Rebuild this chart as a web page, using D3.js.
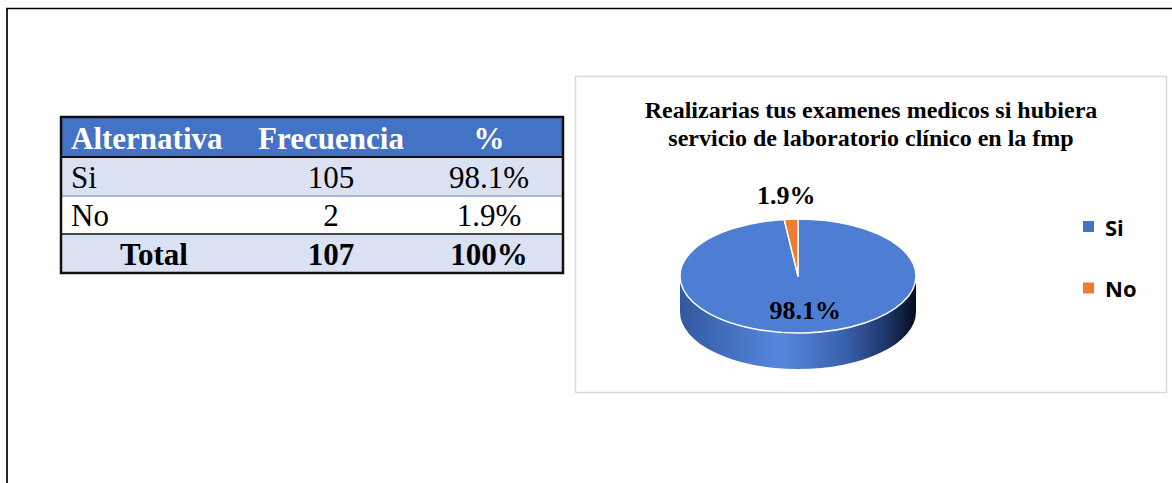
<!DOCTYPE html>
<html><head><meta charset="utf-8">
<script src="https://cdn.jsdelivr.net/npm/d3@7"></script>
<style>html,body{margin:0;padding:0;background:#fff;overflow:hidden}</style>
</head><body>
<svg id="c" width="1172" height="483"></svg>
<script>
// ---- data ----
const categories = ["Si", "No"];
const frequencies = [105, 2];
const percentLabels = ["98.1%", "1.9%"];
const headers = ["Alternativa", "Frecuencia", "%"];
const totalRow = ["Total", "107", "100%"];
const titleLines = ["Realizarias tus examenes medicos si hubiera", "servicio de laboratorio clínico en la fmp"];
const sliceColors = ["#4d7ed4", "#ED7D31"];
const legendColors = ["#4472C4", "#ED7D31"];

const svg = d3.select("#c");
const serif = "'Liberation Serif','Times New Roman',serif";

// ---- outer page frame ----
svg.append("path").attr("d", "M7,483 V8.5 H1172").attr("fill", "none")
  .attr("stroke", "#000").attr("stroke-width", 1.7);

// ---- table ----
const colEdges = [61, 247, 415, 563];
const rowEdges = [117, 157, 196, 234, 273];
const rows = [headers]
  .concat(categories.map((c, i) => [c, String(frequencies[i]), percentLabels[i]]))
  .concat([totalRow]);
const rowFills = ["#4472C4", "#D9E1F2", "#FFFFFF", "#D9E1F2"];
const tbl = svg.append("g");
tbl.selectAll("rect.row").data(rows).join("rect")
  .attr("x", colEdges[0]).attr("y", (d, i) => rowEdges[i])
  .attr("width", colEdges[3] - colEdges[0]).attr("height", (d, i) => rowEdges[i + 1] - rowEdges[i])
  .attr("fill", (d, i) => rowFills[i]);
tbl.append("line").attr("x1", colEdges[0]).attr("x2", colEdges[3]).attr("y1", rowEdges[1]).attr("y2", rowEdges[1])
  .attr("stroke", "#111").attr("stroke-width", 2);
tbl.append("line").attr("x1", colEdges[0]).attr("x2", colEdges[3]).attr("y1", rowEdges[2]).attr("y2", rowEdges[2])
  .attr("stroke", "#8EA9DB").attr("stroke-width", 1.5);
tbl.append("line").attr("x1", colEdges[0]).attr("x2", colEdges[3]).attr("y1", rowEdges[3]).attr("y2", rowEdges[3])
  .attr("stroke", "#111").attr("stroke-width", 1.6);
tbl.append("rect").attr("x", colEdges[0]).attr("y", rowEdges[0])
  .attr("width", colEdges[3] - colEdges[0]).attr("height", rowEdges[4] - rowEdges[0])
  .attr("fill", "none").attr("stroke", "#111").attr("stroke-width", 2.5);

rows.forEach((r, ri) => {
  const isHeader = ri === 0, isTotal = ri === rows.length - 1;
  const base = rowEdges[ri + 1] - 8;
  r.forEach((txt, ci) => {
    let x, anchor;
    if (ci === 0 && !isTotal) { x = colEdges[0] + 10; anchor = "start"; }
    else if (ci === 0) { x = (colEdges[0] + colEdges[1]) / 2; anchor = "middle"; }
    else if (ci === 1) { x = 331; anchor = "middle"; }
    else { x = 489; anchor = "middle"; }
    tbl.append("text").attr("x", x).attr("y", base).attr("text-anchor", anchor)
      .attr("font-family", serif).attr("font-size", 31)
      .attr("font-weight", (isHeader || isTotal) ? "bold" : "normal")
      .attr("fill", isHeader ? "#fff" : "#000").text(txt);
  });
});

// ---- chart box ----
svg.append("rect").attr("x", 575.5).attr("y", 76.5).attr("width", 591).attr("height", 316)
  .attr("fill", "#fff").attr("stroke", "#d9d9d9").attr("stroke-width", 1.5);

svg.append("g").selectAll("text").data(titleLines).join("text")
  .attr("x", 871).attr("y", (d, i) => 118 + i * 28).attr("text-anchor", "middle")
  .attr("font-family", serif).attr("font-weight", "bold").attr("font-size", 24)
  .attr("fill", "#000").text(d => d);

// ---- 3D pie ----
const cx = 798, cy = 276, rx = 118, ry = 57, depth = 36;
const pie = d3.pie().sort(null).value(d => d)(frequencies);
const px = a => cx + rx * Math.sin(a);
const py = a => cy - ry * Math.cos(a);

const defs = svg.append("defs");
const grad = defs.append("linearGradient").attr("id", "side").attr("gradientUnits", "userSpaceOnUse")
  .attr("x1", cx - rx).attr("x2", cx + rx).attr("y1", 0).attr("y2", 0);
[[0, "#33579f"], [0.12, "#3d66b0"], [0.42, "#5587de"], [0.68, "#3c64b0"], [0.86, "#203a72"], [1, "#050c1c"]]
  .forEach(([o, c]) => grad.append("stop").attr("offset", o).attr("stop-color", c));

const pieG = svg.append("g");
pie.forEach((s, i) => {
  const a0 = Math.max(s.startAngle, Math.PI / 2), a1 = Math.min(s.endAngle, 3 * Math.PI / 2);
  if (a1 <= a0) return;
  const large = (a1 - a0) > Math.PI ? 1 : 0;
  const d = `M${px(a0)},${py(a0)} A${rx},${ry} 0 ${large} 1 ${px(a1)},${py(a1)} L${px(a1)},${py(a1) + depth} A${rx},${ry} 0 ${large} 0 ${px(a0)},${py(a0) + depth} Z`;
  pieG.append("path").attr("d", d).attr("fill", i === 0 ? "url(#side)" : "#b35a1f");
});
pie.forEach((s, i) => {
  const a0 = s.startAngle, a1 = s.endAngle;
  const large = (a1 - a0) > Math.PI ? 1 : 0;
  const d = `M${cx},${cy} L${px(a0)},${py(a0)} A${rx},${ry} 0 ${large} 1 ${px(a1)},${py(a1)} Z`;
  pieG.append("path").attr("d", d).attr("fill", sliceColors[i])
    .attr("stroke", "#fff").attr("stroke-width", 1.5).attr("stroke-linejoin", "round");
});
const labelFactor = [0.6, 1.42];
pie.forEach((s, i) => {
  const m = (s.startAngle + s.endAngle) / 2;
  const f = labelFactor[i];
  pieG.append("text").attr("x", cx + rx * f * Math.sin(m) + (i === 0 ? 3 : -2))
    .attr("y", cy - ry * f * Math.cos(m)).attr("dy", "0.35em")
    .attr("text-anchor", "middle").attr("font-family", serif).attr("font-weight", "bold")
    .attr("font-size", 26).attr("fill", "#000").text(percentLabels[i]);
});

// ---- legend ----
const lg = svg.append("g");
categories.forEach((c, i) => {
  const y = 221 + i * 61.5;
  lg.append("rect").attr("x", 1083).attr("y", y).attr("width", 11).attr("height", 11).attr("fill", legendColors[i]);
  lg.append("text").attr("x", 1105).attr("y", y + 14.5).attr("font-family", "'Open Sans','Noto Sans',sans-serif")
    .attr("font-weight", "bold").attr("font-size", 22).attr("fill", "#000").text(c);
});
</script>
</body></html>
